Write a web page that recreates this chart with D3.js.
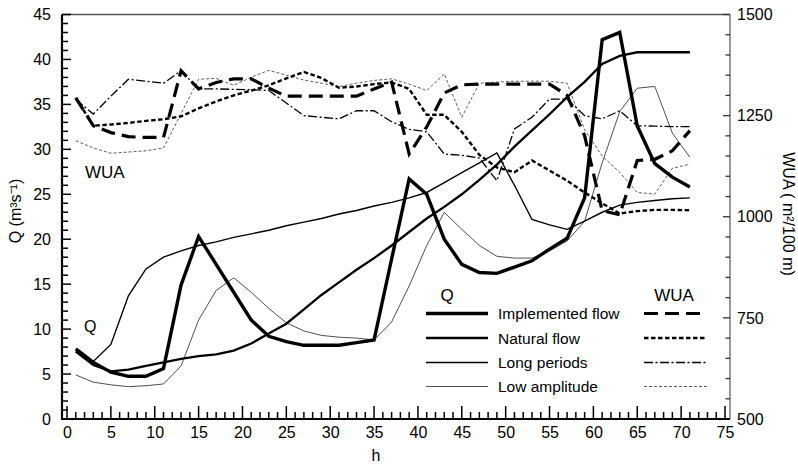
<!DOCTYPE html>
<html>
<head>
<meta charset="utf-8">
<script src="https://cdn.jsdelivr.net/npm/d3@7"></script>
<style>
  html, body { margin: 0; padding: 0; background: #fff; }
  svg { display: block; font-family: "Liberation Sans", Arial, Helvetica, sans-serif; }
</style>
</head>
<body>
<svg id="chart" width="798" height="465"></svg>
<script>
// Time (h) of each reading
const hours = [1,3,5,7,9,11,13,15,17,19,21,23,25,27,29,31,33,35,37,39,41,43,45,47,49,51,53,55,57,59,61,63,65,67,69,71];

// Discharge Q (m3/s)
const qImplemented = [7.8,6.3,5.2,4.75,4.75,5.6,14.9,20.3,17.2,14.1,11.0,9.2,8.6,8.2,8.2,8.2,8.5,8.8,17.8,26.7,25.0,20.0,17.2,16.3,16.2,16.9,17.6,18.9,20.1,24.6,42.2,43.0,32.6,28.4,26.9,25.8];
const qNatural     = [7.5,6.0,5.3,5.5,5.9,6.3,6.7,7.0,7.2,7.6,8.4,9.5,10.6,12.2,13.8,15.2,16.6,17.9,19.3,20.8,22.3,23.6,25.0,26.6,28.3,30.3,32.1,33.9,35.8,37.5,39.5,40.4,40.8,40.8,40.8,40.8];
const qLong        = [7.5,6.4,8.3,13.7,16.7,18.0,18.7,19.3,19.7,20.2,20.6,21.0,21.5,21.9,22.3,22.8,23.2,23.7,24.1,24.6,25.2,26.3,27.4,28.5,29.6,26.0,22.2,21.6,21.1,22.0,23.0,23.8,24.1,24.3,24.5,24.6];
const qLow         = [4.9,4.1,3.8,3.6,3.7,3.9,5.9,11.0,14.3,15.7,14.1,12.3,10.7,9.8,9.3,9.1,9.0,8.8,10.8,14.8,19.3,23.0,21.1,19.3,18.1,17.9,17.9,18.7,19.8,22.0,28.5,34.2,36.8,37.0,31.8,29.1];

// Weighted usable area WUA (m2/100 m)
const wImplemented = [1294,1225,1208,1198,1196,1196,1361,1316,1332,1341,1341,1318,1298,1298,1298,1298,1298,1316,1333,1155,1222,1306,1326,1328,1328,1328,1328,1328,1300,1200,1015,1005,1139,1142,1163,1213];
const wNatural     = [1294,1225,1228,1232,1237,1241,1248,1268,1285,1300,1312,1325,1342,1358,1343,1319,1322,1328,1332,1316,1252,1252,1210,1153,1122,1110,1139,1114,1089,1060,1033,1008,1014,1017,1017,1016];
const wLong        = [1290,1254,1298,1340,1335,1330,1361,1316,1316,1315,1314,1312,1281,1250,1246,1242,1262,1262,1235,1216,1210,1155,1152,1145,1089,1217,1246,1291,1291,1250,1242,1262,1225,1224,1223,1223];
const wLow         = [1188,1170,1157,1160,1163,1170,1255,1340,1342,1325,1345,1362,1350,1338,1330,1322,1330,1337,1341,1328,1312,1353,1246,1330,1333,1335,1335,1335,1330,1215,1150,1110,1060,1056,1120,1130];

// Axis ticks and legend text
const xTicks = [0,5,10,15,20,25,30,35,40,45,50,55,60,65,70,75];
const qTicks = [0,5,10,15,20,25,30,35,40,45];
const wTicks = [500,750,1000,1250,1500];
const seriesNames = ["Implemented flow","Natural flow","Long periods","Low amplitude"];

const svg = d3.select("#chart");
const frame = { left: 62, right: 730, top: 14.5, bottom: 419 };

const x = d3.scaleLinear().domain([0, 75]).range([67, 725]);
const yQ = d3.scaleLinear().domain([0, 45]).range([frame.bottom, frame.top]);
const yW = d3.scaleLinear().domain([500, 1500]).range([frame.bottom, frame.top]);

// Line styles
const qStyles = [
  { w: 3.4, dash: null, c: "#000" },
  { w: 2.3, dash: null, c: "#000" },
  { w: 1.4, dash: null, c: "#000" },
  { w: 0.8, dash: null, c: "#222" }
];
const wStyles = [
  { w: 3.2, dash: "14,7", c: "#000" },
  { w: 2.4, dash: "4.5,2.5", c: "#000" },
  { w: 1.3, dash: "9,2.5,2,2.5", c: "#000" },
  { w: 0.8, dash: "3,2", c: "#333" }
];

const qSeries = [qImplemented, qNatural, qLong, qLow];
const wSeries = [wImplemented, wNatural, wLong, wLow];
const FONT = "Liberation Sans, Arial, sans-serif";

// Light top and right frame edges
svg.append("path").attr("d", `M${frame.left},${frame.top}H${frame.right}`)
  .attr("stroke", "#555").attr("stroke-width", 1.3).attr("fill", "none");
svg.append("path").attr("d", `M${frame.right},${frame.top}V${frame.bottom}`)
  .attr("stroke", "#555").attr("stroke-width", 1.2).attr("fill", "none");

// Tick marks, drawn inward from each axis
const tickG = svg.append("g");
tickG.selectAll("line.xt").data(d3.range(0, 76, 1)).join("line").attr("class", "xt")
  .attr("x1", d => x(d)).attr("x2", d => x(d))
  .attr("y1", frame.bottom).attr("y2", d => frame.bottom - (d % 5 === 0 ? 13 : 7))
  .attr("stroke", "#000").attr("stroke-width", 1.5);
tickG.selectAll("line.qt").data(d3.range(0, 46, 1)).join("line").attr("class", "qt")
  .attr("x1", frame.left).attr("x2", d => frame.left + (d % 5 === 0 ? 9 : 6))
  .attr("y1", d => yQ(d)).attr("y2", d => yQ(d))
  .attr("stroke", "#000").attr("stroke-width", 1.5);
tickG.selectAll("line.wt").data(d3.range(500, 1501, 50)).join("line").attr("class", "wt")
  .attr("x1", frame.right).attr("x2", d => frame.right - (d % 250 === 0 ? 7 : 4.5))
  .attr("y1", d => yW(d)).attr("y2", d => yW(d))
  .attr("stroke", "#333").attr("stroke-width", 1.3);

// Tick labels via d3 axes
const gx = svg.append("g").attr("transform", `translate(0,${frame.bottom})`)
  .call(d3.axisBottom(x).tickValues(xTicks).tickSize(0).tickPadding(8));
const gy = svg.append("g").attr("transform", `translate(${frame.left},0)`)
  .call(d3.axisLeft(yQ).tickValues(qTicks).tickSize(0).tickPadding(11));
const gw = svg.append("g").attr("transform", `translate(${frame.right},0)`)
  .call(d3.axisRight(yW).tickValues(wTicks).tickSize(0).tickPadding(7).tickFormat(d3.format("d")));
[gx, gy, gw].forEach(g => {
  g.select(".domain").remove();
  g.selectAll(".tick line").remove();
  g.selectAll(".tick text").attr("font-size", 16).attr("fill", "#000").attr("font-family", FONT);
});

// Heavy left and bottom axis lines
svg.append("path").attr("d", `M${frame.left},${frame.top}V${frame.bottom + 1}`)
  .attr("stroke", "#000").attr("stroke-width", 2.2).attr("fill", "none");
svg.append("path").attr("d", `M${frame.left - 1},${frame.bottom}H${frame.right}`)
  .attr("stroke", "#000").attr("stroke-width", 2.2).attr("fill", "none");

// Series lines
const plot = svg.append("g");
const lineQ = d3.line().x((d, i) => x(hours[i])).y(d => yQ(d));
const lineW = d3.line().x((d, i) => x(hours[i])).y(d => yW(d));

function drawLine(data, gen, st) {
  const p = plot.append("path").datum(data)
    .attr("d", gen)
    .attr("fill", "none")
    .attr("stroke", st.c)
    .attr("stroke-width", st.w)
    .attr("stroke-linejoin", "miter")
    .attr("stroke-linecap", "butt");
  if (st.dash) p.attr("stroke-dasharray", st.dash);
}
// Thin lines first so heavy lines sit on top
[3, 2, 1, 0].forEach(i => drawLine(wSeries[i], lineW, wStyles[i]));
[3, 2, 1, 0].forEach(i => drawLine(qSeries[i], lineQ, qStyles[i]));

// In-plot labels
svg.append("text").attr("x", 85).attr("y", 178).attr("font-size", 17).text("WUA");
svg.append("text").attr("x", 84).attr("y", 332).attr("font-size", 16).text("Q");

// Legend
const legend = svg.append("g");
legend.append("text").attr("x", 447).attr("y", 301).attr("text-anchor", "middle").attr("font-size", 17).text("Q");
legend.append("text").attr("x", 674).attr("y", 301).attr("text-anchor", "middle").attr("font-size", 17).text("WUA");
const rowY = [313.5, 338, 362.5, 386.5];
seriesNames.forEach((name, i) => {
  const yy = rowY[i];
  legend.append("line").attr("x1", 426).attr("x2", 488).attr("y1", yy).attr("y2", yy)
    .attr("stroke", qStyles[i].c).attr("stroke-width", qStyles[i].w);
  legend.append("text").attr("x", 498).attr("y", yy + 5.5).attr("font-size", 15.5).text(name);
  const wl = legend.append("line").attr("x1", 644).attr("x2", 707).attr("y1", yy).attr("y2", yy)
    .attr("stroke", wStyles[i].c).attr("stroke-width", wStyles[i].w);
  if (wStyles[i].dash) wl.attr("stroke-dasharray", wStyles[i].dash);
});

// Axis titles
svg.append("text").attr("transform", "translate(21,211) rotate(-90)").attr("text-anchor", "middle")
  .attr("font-size", 16).text("Q (m³s⁻¹)");
svg.append("text").attr("x", 376).attr("y", 461).attr("text-anchor", "middle").attr("font-size", 16).text("h");
svg.append("text").attr("transform", "translate(783,214) rotate(90)").attr("text-anchor", "middle")
  .attr("font-size", 16).text("WUA ( m²/100 m)");
</script>
</body>
</html>
